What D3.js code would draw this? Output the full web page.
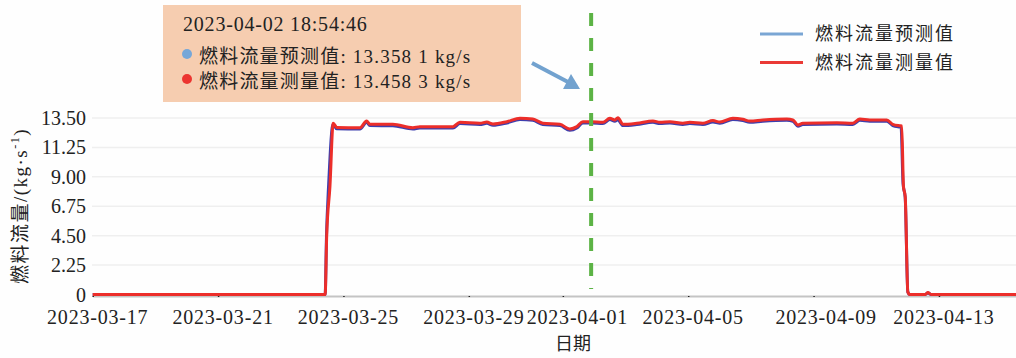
<!DOCTYPE html>
<html>
<head>
<meta charset="utf-8">
<script src="https://cdn.jsdelivr.net/npm/d3@7"></script>
<style>
  body { margin: 0; background: #fefefe; }
  svg { display: block; }
  text { font-family: "Liberation Serif", "Noto Sans CJK SC", serif; fill: #222; }
</style>
</head>
<body>
<script>
// chart size, same as the window
const width = 1016;
const height = 358;

// measured fuel flow (kg/s)
const measuredTimes = [
  "2023-03-17 00:00", "2023-03-24 10:00", "2023-03-24 11:10", "2023-03-24 13:40", "2023-03-24 16:10",
  "2023-03-24 18:50", "2023-03-25 12:40", "2023-03-25 17:45", "2023-03-25 20:15", "2023-03-26 13:50",
  "2023-03-27 05:10", "2023-03-27 10:30", "2023-03-28 11:50", "2023-03-28 17:10", "2023-03-29 08:30",
  "2023-03-29 13:50", "2023-03-29 18:30", "2023-03-30 05:10", "2023-03-30 15:10", "2023-03-31 01:00",
  "2023-03-31 08:40", "2023-03-31 21:45", "2023-04-01 05:20", "2023-04-01 10:45", "2023-04-01 15:20",
  "2023-04-01 22:15", "2023-04-02 06:40", "2023-04-02 12:00", "2023-04-02 15:50", "2023-04-02 18:10",
  "2023-04-02 22:00", "2023-04-03 08:40", "2023-04-03 21:00", "2023-04-04 02:20", "2023-04-04 10:00",
  "2023-04-04 19:55", "2023-04-05 01:15", "2023-04-05 11:15", "2023-04-05 18:55", "2023-04-06 00:15",
  "2023-04-06 10:10", "2023-04-06 17:50", "2023-04-06 23:10", "2023-04-07 09:10", "2023-04-08 03:30",
  "2023-04-08 08:10", "2023-04-08 12:00", "2023-04-08 15:45", "2023-04-09 17:50", "2023-04-10 06:00",
  "2023-04-10 11:25", "2023-04-10 19:00", "2023-04-11 08:05", "2023-04-11 12:40", "2023-04-11 18:00",
  "2023-04-11 19:30", "2023-04-11 20:50", "2023-04-11 22:10", "2023-04-12 00:10", "2023-04-12 01:40",
  "2023-04-12 13:30", "2023-04-12 15:35", "2023-04-12 18:00", "2023-04-15 11:00"
];
const measuredValues = [
  0, 0, 4.45, 8.26, 13.10,
  12.78, 12.76, 13.27, 13.02, 13.02,
  12.76, 12.84, 12.84, 13.17, 13.10,
  13.19, 13.04, 13.22, 13.48, 13.42,
  13.10, 13.02, 12.66, 12.84, 13.22,
  13.22, 13.17, 13.48, 13.35, 13.52,
  13.02, 13.10, 13.27, 13.17, 13.22,
  13.10, 13.17, 13.10, 13.30, 13.19,
  13.48, 13.40, 13.27, 13.35, 13.42,
  13.35, 12.97, 13.10, 13.14, 13.10,
  13.42, 13.35, 13.35, 13.02, 12.91,
  12.89, 8.26, 7.50, 0.20, 0,
  0, 0.15, 0, 0
];

// predicted fuel flow (kg/s)
const predictedTimes = [
  "2023-03-17 00:00", "2023-03-24 10:00", "2023-03-24 11:00", "2023-03-24 12:40", "2023-03-24 16:00",
  "2023-03-24 18:50", "2023-03-25 12:40", "2023-03-25 17:45", "2023-03-25 20:15", "2023-03-26 13:50",
  "2023-03-27 05:10", "2023-03-27 10:30", "2023-03-28 11:50", "2023-03-28 17:10", "2023-03-29 08:30",
  "2023-03-29 13:50", "2023-03-29 18:30", "2023-03-30 05:10", "2023-03-30 15:10", "2023-03-31 01:00",
  "2023-03-31 08:40", "2023-03-31 21:45", "2023-04-01 05:20", "2023-04-01 10:45", "2023-04-01 15:20",
  "2023-04-01 22:15", "2023-04-02 06:40", "2023-04-02 12:00", "2023-04-02 15:50", "2023-04-02 18:10",
  "2023-04-02 22:00", "2023-04-03 08:40", "2023-04-03 21:00", "2023-04-04 02:20", "2023-04-04 10:00",
  "2023-04-04 19:55", "2023-04-05 01:15", "2023-04-05 11:15", "2023-04-05 18:55", "2023-04-06 00:15",
  "2023-04-06 10:10", "2023-04-06 17:50", "2023-04-06 23:10", "2023-04-07 09:10", "2023-04-08 03:30",
  "2023-04-08 08:10", "2023-04-08 12:00", "2023-04-08 15:45", "2023-04-09 17:50", "2023-04-10 06:00",
  "2023-04-10 11:25", "2023-04-10 19:00", "2023-04-11 08:05", "2023-04-11 12:40", "2023-04-11 17:30",
  "2023-04-11 19:00", "2023-04-11 20:30", "2023-04-11 22:10", "2023-04-12 00:10", "2023-04-12 01:40",
  "2023-04-12 13:30", "2023-04-12 15:35", "2023-04-12 18:00", "2023-04-15 11:00"
];
const predictedValues = [
  0, 0, 4.40, 8.40, 13.00,
  12.68, 12.66, 13.17, 12.92, 12.90,
  12.66, 12.74, 12.74, 13.07, 13.00,
  13.09, 12.94, 13.12, 13.38, 13.32,
  13.00, 12.92, 12.56, 12.74, 13.12,
  13.12, 13.07, 13.38, 13.25, 13.36,
  12.92, 13.00, 13.17, 13.07, 13.12,
  13.00, 13.07, 13.00, 13.20, 13.09,
  13.38, 13.30, 13.17, 13.25, 13.32,
  13.25, 12.87, 13.00, 13.04, 13.00,
  13.32, 13.25, 13.25, 12.92, 12.81,
  12.79, 8.50, 7.40, 0.20, 0,
  0, 0.12, 0, 0
];

// axis ticks
const xTickDates = ["2023-03-17", "2023-03-21", "2023-03-25", "2023-03-29", "2023-04-01",
                    "2023-04-05", "2023-04-09", "2023-04-13"];
const yTickValues = [0, 2.25, 4.5, 6.75, 9, 11.25, 13.5];
const yTickLabels = ["0", "2.25", "4.50", "6.75", "9.00", "11.25", "13.50"];

// hover annotation
const markerTime = "2023-04-01 21:40";
const tipLines = ["2023-04-02 18:54:46", "燃料流量预测值: 13.358 1 kg/s", "燃料流量测量值: 13.458 3 kg/s"];
const seriesNames = ["燃料流量预测值", "燃料流量测量值"];

const parseTime = d3.timeParse("%Y-%m-%d %H:%M");
const parseDay = d3.timeParse("%Y-%m-%d");

const measured = measuredTimes.map((t, i) => ({ t: parseTime(t), v: measuredValues[i] }));
const predicted = predictedTimes.map((t, i) => ({ t: parseTime(t), v: predictedValues[i] }));

const svg = d3.select("body").append("svg")
    .attr("width", width)
    .attr("height", height);

const x = d3.scaleTime()
    .domain([parseTime("2023-03-17 00:00"), parseTime("2023-04-15 11:00")])
    .range([92.7, 1016]);

const y = d3.scaleLinear()
    .domain([0, 13.5])
    .range([294.5, 118]);

// faint horizontal grid
svg.append("g").selectAll("line")
    .data(yTickValues.slice(1))
    .enter().append("line")
    .attr("x1", 92).attr("x2", width)
    .attr("y1", d => y(d)).attr("y2", d => y(d))
    .attr("stroke", "#efefef")
    .attr("stroke-width", 1.5);

// y axis labels
svg.append("g").selectAll("text")
    .data(yTickValues)
    .enter().append("text")
    .attr("x", 86)
    .attr("y", d => y(d))
    .attr("dy", "0.35em")
    .attr("text-anchor", "end")
    .attr("font-size", 20)
    .text((d, i) => yTickLabels[i]);

// x axis
const xAxis = d3.axisBottom(x)
    .tickValues(xTickDates.map(parseDay))
    .tickFormat(d3.timeFormat("%Y-%m-%d"))
    .tickSizeInner(-6)
    .tickSizeOuter(0)
    .tickPadding(14);

const gx = svg.append("g")
    .attr("transform", "translate(0,296)")
    .call(xAxis);
gx.select(".domain").attr("stroke", "#c4c4c4").attr("stroke-width", 2);
gx.selectAll(".tick line").attr("stroke", "#222").attr("stroke-width", 1.5).attr("y2", 1);
// labels sit a little right of their ticks; two of them are pushed further to avoid crowding
gx.selectAll(".tick text")
    .attr("font-size", 20)
    .attr("font-family", "Liberation Serif")
    .attr("letter-spacing", "0.8px")
    .attr("fill", "#222")
    .attr("dx", (d, i) => (i === 4 ? 14 : i === 6 ? 12 : 4.5));

// axis titles
svg.append("text")
    .attr("x", 573)
    .attr("y", 350)
    .attr("text-anchor", "middle")
    .attr("font-size", 18)
    .attr("fill", "#333")
    .text("日期");

const yTitle = svg.append("text")
    .attr("transform", "translate(27,206) rotate(-90)")
    .attr("text-anchor", "middle")
    .attr("font-size", 19)
    .attr("letter-spacing", "1.5px")
    .attr("fill", "#333");
yTitle.append("tspan").text("燃料流量/(kg·s");
yTitle.append("tspan").attr("font-size", 12).attr("dy", -8).text("-1");
yTitle.append("tspan").attr("dy", 8).text(")");

// lines
const line = d3.line()
    .x(d => x(d.t))
    .y(d => y(d.v))
    .curve(d3.curveMonotoneX);

svg.append("path")
    .datum(predicted)
    .attr("fill", "none")
    .attr("stroke", "#3d3fae")
    .attr("stroke-width", 3)
    .attr("stroke-linejoin", "round")
    .attr("d", line);

svg.append("path")
    .datum(measured)
    .attr("fill", "none")
    .attr("stroke", "#ec2e2a")
    .attr("stroke-width", 3)
    .attr("stroke-linejoin", "round")
    .attr("d", line);

// green dashed marker line
const mx = x(parseTime(markerTime));
svg.append("line")
    .attr("x1", mx).attr("x2", mx)
    .attr("y1", 13).attr("y2", 289)
    .attr("stroke", "#5cb345")
    .attr("stroke-width", 4)
    .attr("stroke-dasharray", "13,12");

// tooltip box
svg.append("rect")
    .attr("x", 163).attr("y", 5)
    .attr("width", 358).attr("height", 97)
    .attr("fill", "#f6cdb0");

svg.append("text")
    .attr("x", 183).attr("y", 31)
    .attr("font-size", 20)
    .attr("letter-spacing", "0.8px")
    .text(tipLines[0]);

const dotColors = ["#76a7d8", "#ec3530"];
[1, 2].forEach(i => {
    const ty = 63 + (i - 1) * 25;
    svg.append("circle")
        .attr("cx", 187).attr("cy", ty - 9)
        .attr("r", 5)
        .attr("fill", dotColors[i - 1]);
    svg.append("text")
        .attr("x", 199).attr("y", ty)
        .attr("font-size", 19)
        .attr("letter-spacing", "1.2px")
        .text(tipLines[i]);
});

// arrow pointing at marker line
svg.append("line")
    .attr("x1", 532).attr("y1", 63)
    .attr("x2", 568).attr("y2", 82)
    .attr("stroke", "#72a2cf")
    .attr("stroke-width", 4);
svg.append("path")
    .attr("d", "M563,89 L580,89 L571,74 Z")
    .attr("fill", "#72a2cf");

// legend
const legendColors = ["#7aa6d4", "#ea3a36"];
const legend = svg.append("g").selectAll("g")
    .data(seriesNames)
    .enter().append("g")
    .attr("transform", (d, i) => `translate(760,${34 + i * 28.5})`);
legend.append("line")
    .attr("x1", 0).attr("x2", 43)
    .attr("stroke", (d, i) => legendColors[i])
    .attr("stroke-width", 3);
legend.append("text")
    .attr("x", 55)
    .attr("dy", "0.35em")
    .attr("font-size", 18)
    .attr("letter-spacing", "2px")
    .attr("fill", "#333")
    .text(d => d);
</script>
</body>
</html>
